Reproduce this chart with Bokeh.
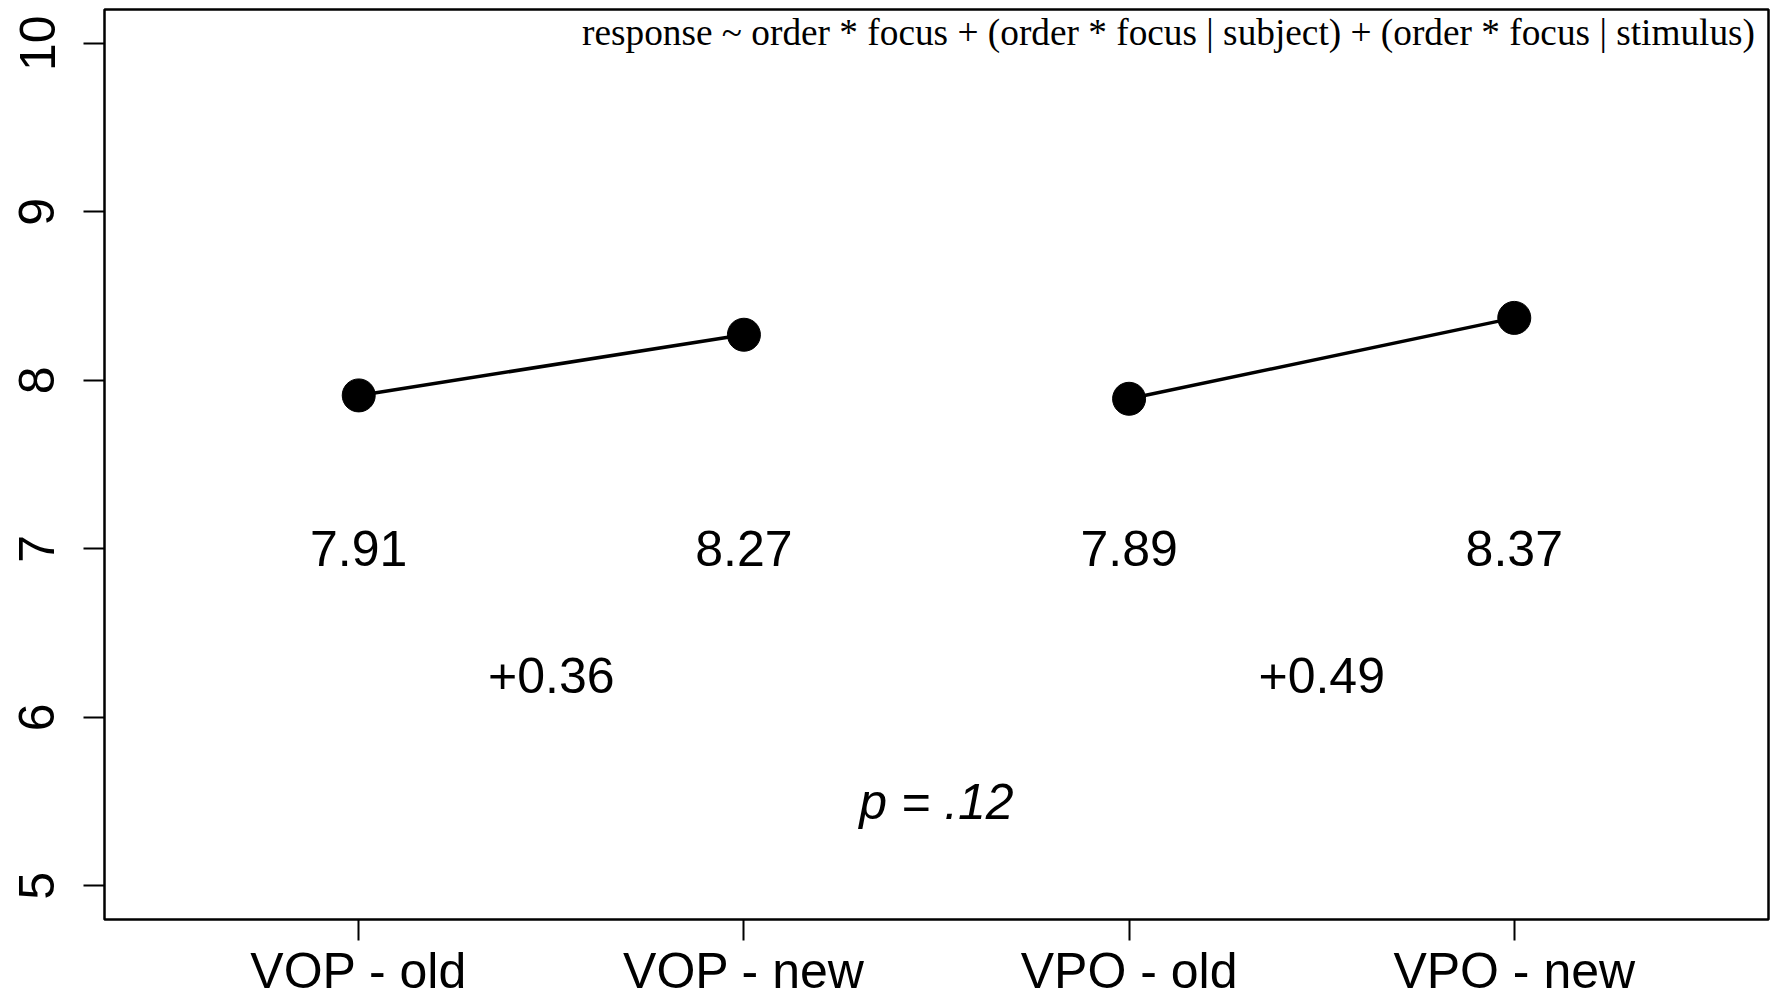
import math
from bokeh.plotting import figure
from bokeh.models import FixedTicker, Range1d
from bokeh.core.properties import value
from bokeh.embed import file_html
from bokeh.resources import INLINE

# ---- data ----
categories = ["VOP - old", "VOP - new", "VPO - old", "VPO - new"]
means = [7.91, 8.27, 7.89, 8.37]
mean_labels = ["7.91", "8.27", "7.89", "8.37"]
diff_labels = ["+0.36", "+0.49"]
p_label = "p = .12"
formula = "response ~ order * focus + (order * focus | subject) + (order * focus | stimulus)"
y_ticks = [5, 6, 7, 8, 9, 10]

xs = list(range(1, len(categories) + 1))

SANS = "Liberation Sans"
SERIF = "Liberation Serif"

p = figure(width=1773, height=1001,
           x_range=Range1d(0.34, 4.66), y_range=Range1d(4.8, 10.2),
           output_backend="svg", toolbar_location=None,
           min_border_left=104, min_border_right=5,
           min_border_top=9, min_border_bottom=81)
p.background_fill_color = "white"
p.border_fill_color = "white"
p.xgrid.grid_line_color = None
p.ygrid.grid_line_color = None
p.outline_line_color = "black"
p.outline_line_width = 2.5
p.outline_line_alpha = 1

# connecting lines (pairs)
p.multi_line(xs=[xs[0:2], xs[2:4]], ys=[means[0:2], means[2:4]],
             line_color="black", line_width=3.5)
p.scatter(xs, means, size=33, fill_color="black", line_color="black")

# mean labels
p.text(x=xs, y=[7] * 4, text=mean_labels,
       text_font=value(SANS), text_font_size="50px", text_color="black",
       text_align="center", text_baseline="middle")
# differences
p.text(x=[(xs[0] + xs[1]) / 2, (xs[2] + xs[3]) / 2], y=[6.25, 6.25], text=diff_labels,
       text_font=value(SANS), text_font_size="50px", text_color="black",
       text_align="center", text_baseline="middle")
# p value
p.text(x=[(xs[1] + xs[2]) / 2], y=[5.5], text=[p_label],
       text_font=value(SANS), text_font_size="50px", text_font_style="italic",
       text_color="black", text_align="center", text_baseline="middle")
# formula
p.text(x=[4.625], y=[10.065], text=[formula],
       text_font=value(SERIF), text_font_size="37.3px", text_color="black",
       text_align="right", text_baseline="alphabetic")

for ax in (p.xaxis[0], p.yaxis[0]):
    ax.axis_line_color = None
    ax.major_tick_in = 0
    ax.major_tick_out = 21
    ax.major_tick_line_width = 2
    ax.major_tick_line_color = "black"
    ax.minor_tick_line_color = None
    ax.major_label_text_font = SANS
    ax.major_label_text_font_size = "50px"
    ax.major_label_text_color = "black"

p.yaxis.ticker = FixedTicker(ticks=y_ticks)
p.yaxis.major_label_orientation = "parallel"
p.yaxis.major_label_standoff = 29

p.xaxis.ticker = FixedTicker(ticks=xs)
p.xaxis.major_label_overrides = {x: c for x, c in zip(xs, categories)}
p.xaxis.major_label_standoff = 2

open("out.html", "w").write(file_html(p, INLINE))
